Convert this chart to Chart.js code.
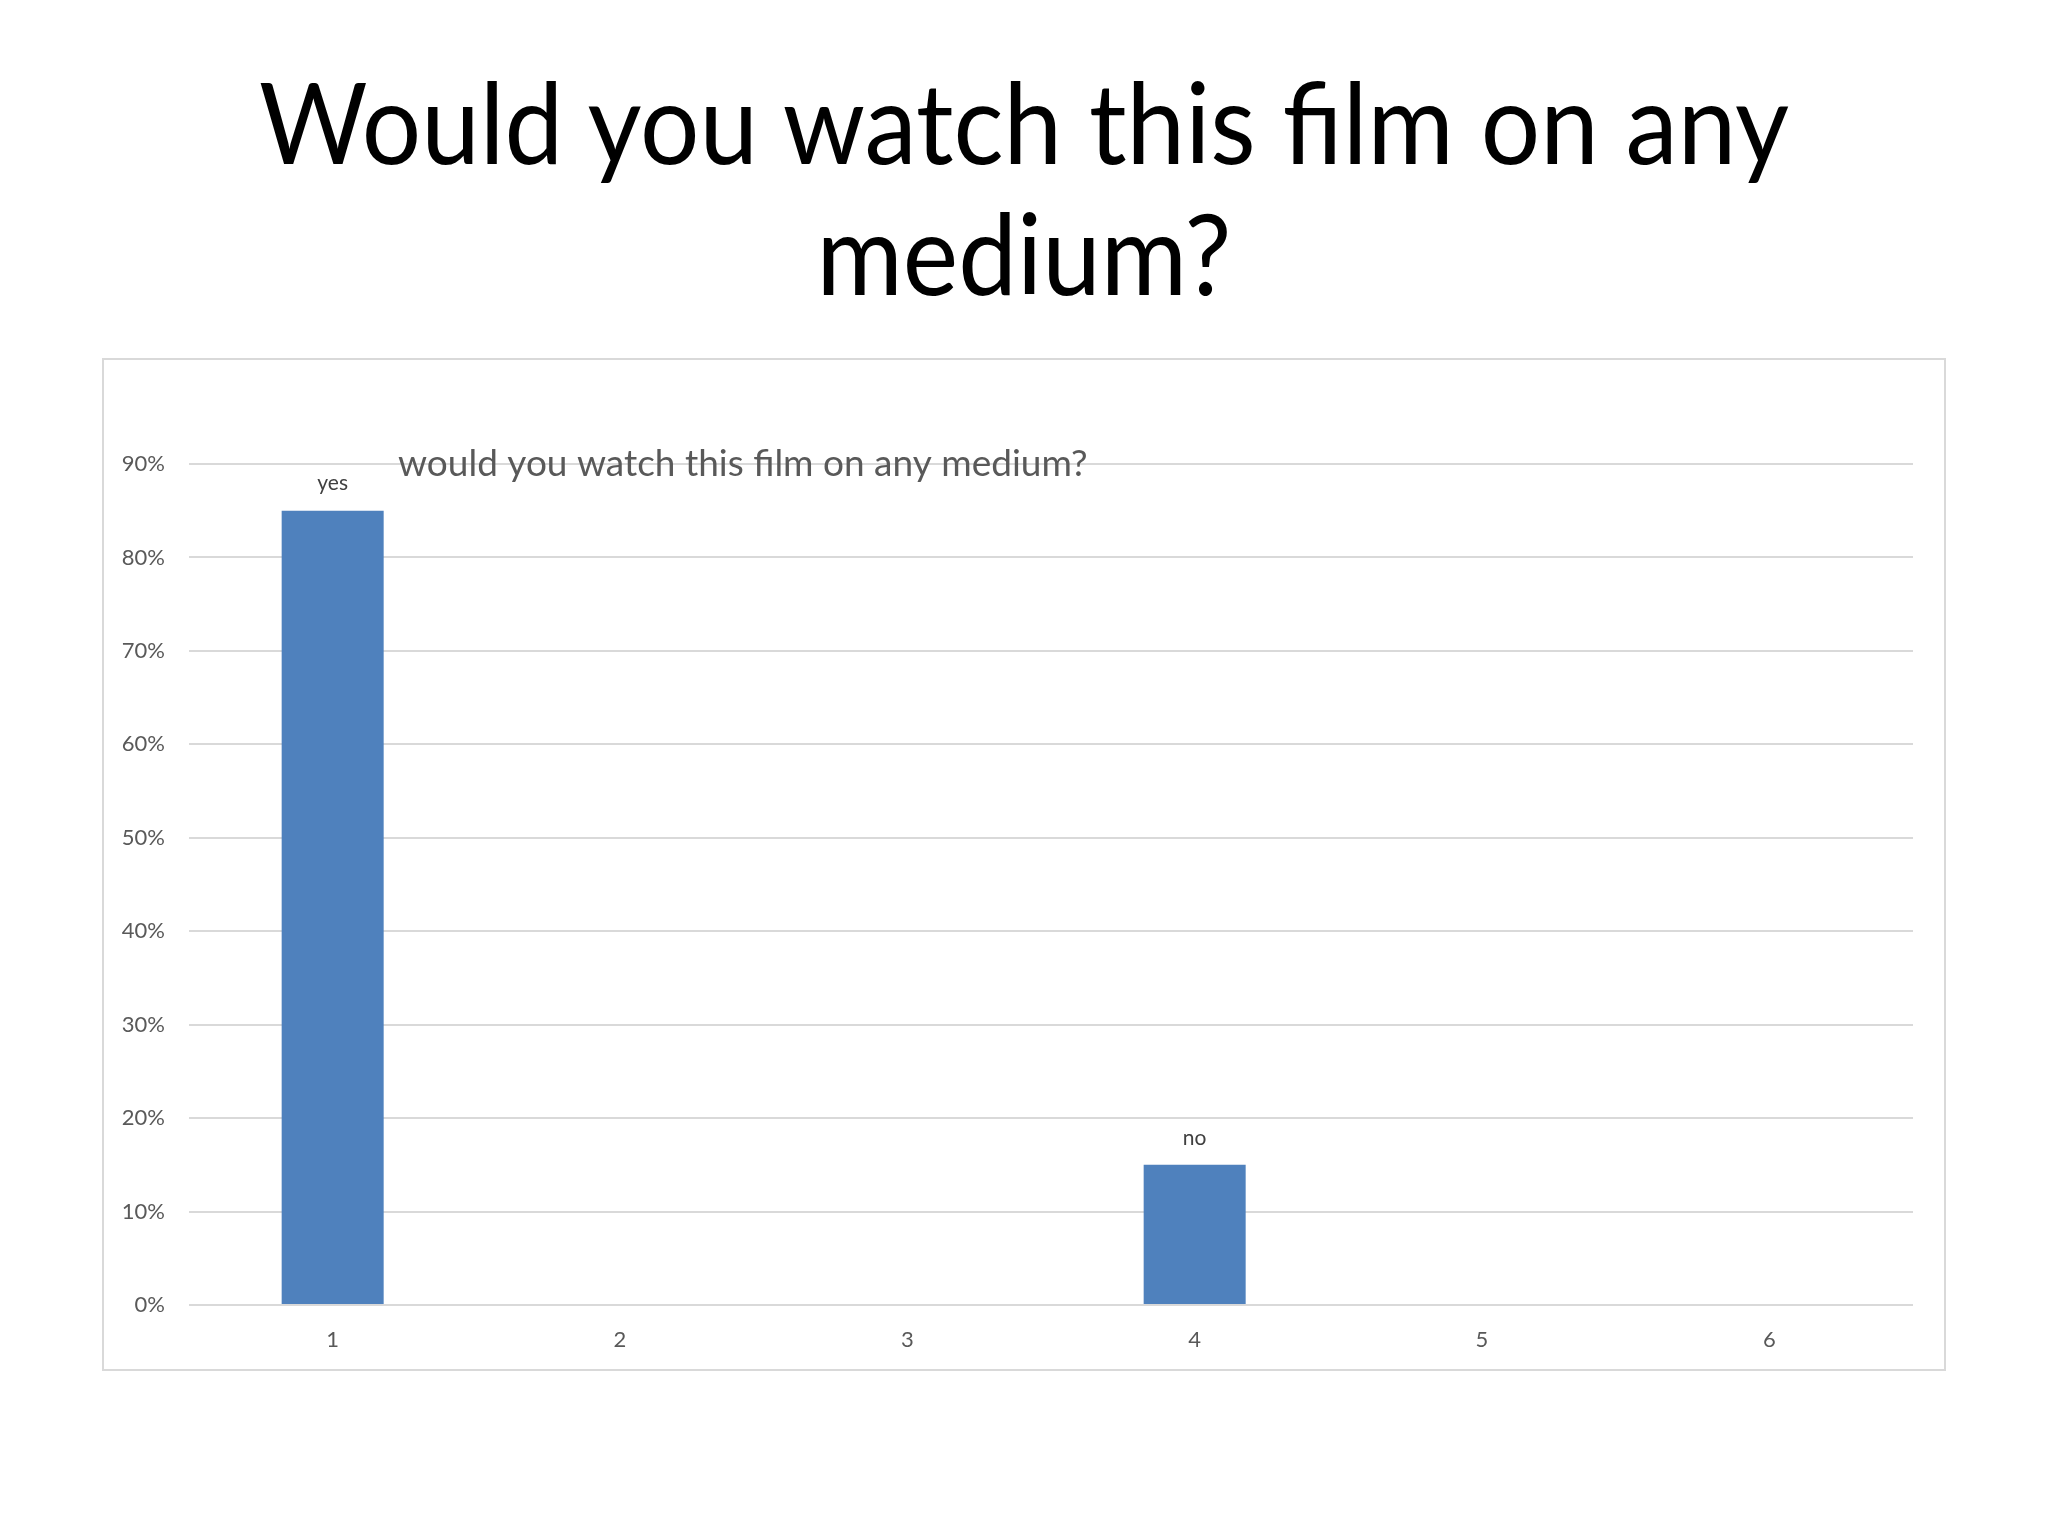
<!DOCTYPE html>
<html>
<head>
<meta charset="utf-8">
<script src="https://cdn.jsdelivr.net/npm/chart.js@4/dist/chart.umd.min.js"></script>
<style>
  html, body { margin: 0; padding: 0; background: #fff; }
  body { width: 2048px; height: 1536px; position: relative; overflow: hidden; }
  #slide-title {
    position: absolute; left: 0; top: 55px; width: 2048px;
    text-align: center; font-family: Lato, "Open Sans", sans-serif;
    font-size: 112px; line-height: 131px; color: #000;
    transform: scaleX(0.937); transform-origin: 1024px 0;
  }
  #chart-box {
    position: absolute; left: 102px; top: 358px; width: 1844px; height: 1013px;
    border: 2px solid #d9d9d9; box-sizing: border-box;
  }
  #chart-box canvas { display: block; }
</style>
</head>
<body>
<div id="slide-title">Would you watch this film on any<br>medium?</div>
<div id="chart-box"><canvas id="chart" width="1840" height="1009"></canvas></div>
<script>
// === data ===
const categories = ['1', '2', '3', '4', '5', '6'];
const answers = [85, null, null, 15, null, null];
const answerLabels = ['yes', '', '', 'no', '', ''];
const yTicks = [0, 10, 20, 30, 40, 50, 60, 70, 80, 90];
const chartTitle = 'would you watch this film on any medium?';

const FONT = 'Lato, "Open Sans", sans-serif';

// chart title sits on the top gridline, like the original
const titlePlugin = {
  id: 'overlayTitle',
  afterDraw(chart) {
    const { ctx, chartArea } = chart;
    ctx.save();
    ctx.font = '37px ' + FONT;
    ctx.fillStyle = '#595959';
    ctx.textAlign = 'left';
    ctx.textBaseline = 'middle';
    ctx.fillText(chartTitle, chartArea.left + 209, chartArea.top);
    ctx.restore();
  }
};

// "yes" / "no" labels above the bars
const barLabels = {
  id: 'barLabels',
  afterDatasetsDraw(chart) {
    const { ctx } = chart;
    const meta = chart.getDatasetMeta(0);
    ctx.save();
    ctx.font = '21px ' + FONT;
    ctx.fillStyle = '#404040';
    ctx.textAlign = 'center';
    ctx.textBaseline = 'middle';
    meta.data.forEach((bar, i) => {
      if (answers[i] == null || !answerLabels[i]) return;
      ctx.fillText(answerLabels[i], bar.x, bar.y - 27);
    });
    ctx.restore();
  }
};

new Chart(document.getElementById('chart'), {
  type: 'bar',
  data: {
    labels: categories,
    datasets: [{
      data: answers,
      backgroundColor: '#4f81bd',
      borderWidth: 0,
      categoryPercentage: 1,
      barPercentage: 0.355
    }]
  },
  options: {
    responsive: false,
    animation: false,
    layout: { padding: { left: 0, top: 104, right: 31, bottom: 0 } },
    plugins: {
      legend: { display: false },
      tooltip: { enabled: false }
    },
    scales: {
      x: {
        grid: { display: false, drawTicks: false },
        border: { display: false },
        ticks: { color: '#595959', font: { family: FONT, size: 22 }, padding: 22 },
        afterFit(scale) { scale.height = 64; }
      },
      y: {
        min: 0,
        max: 90,
        afterBuildTicks(scale) { scale.ticks = yTicks.map(v => ({ value: v })); },
        grid: { color: '#d9d9d9', lineWidth: 2, drawTicks: false },
        border: { display: false },
        ticks: {
          color: '#595959',
          font: { family: FONT, size: 22 },
          padding: 24,
          callback: v => v + '%'
        },
        afterFit(scale) { scale.width = 85; }
      }
    }
  },
  plugins: [titlePlugin, barLabels]
});
</script>
</body>
</html>
